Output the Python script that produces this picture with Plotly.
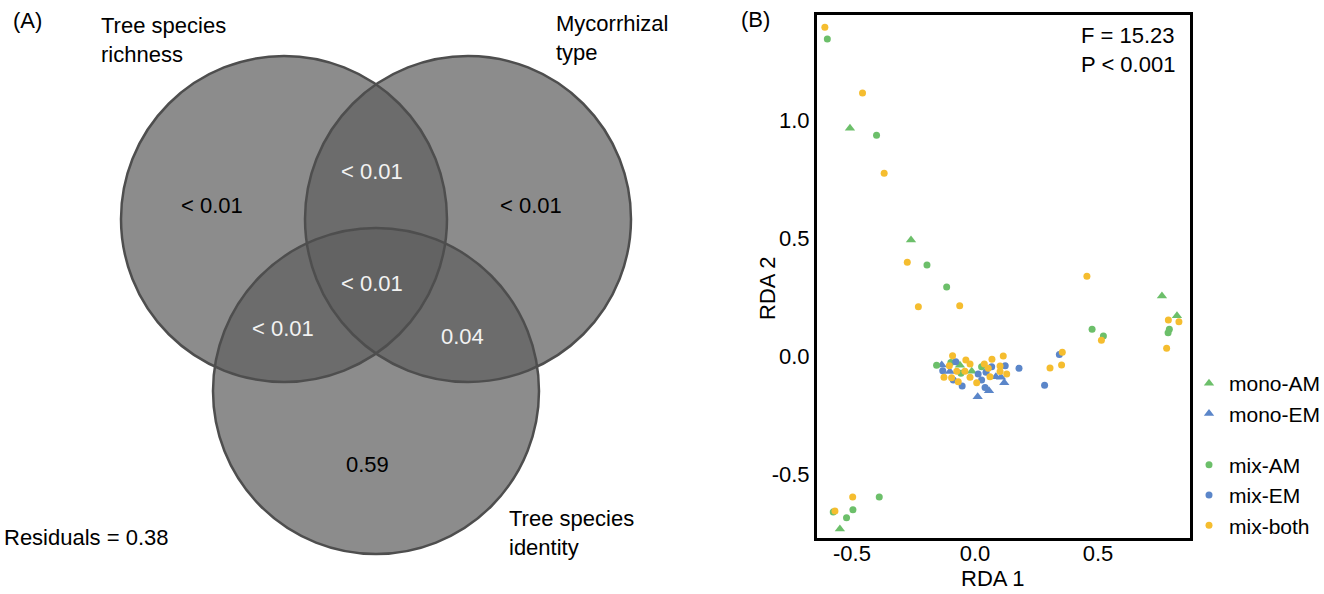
import plotly.graph_objects as go

# ---------------- Panel B data (RDA scores) ----------------
mono_am_x = [-0.508, -0.260, 0.760, 0.821, -0.549, -0.061, -0.013]
mono_am_y = [0.965, 0.492, 0.254, 0.171, -0.733, -0.039, -0.064]

mono_em_x = [-0.135, -0.102, 0.057, 0.011, 0.085, 0.106, 0.119]
mono_em_y = [-0.038, -0.066, -0.147, -0.172, -0.088, -0.090, -0.113]

mix_am_x = [-0.600, -0.400, -0.195, -0.115, 0.476, 0.522, 0.790, 0.785,
            -0.389, -0.576, -0.496, -0.522, -0.156, -0.098, -0.057, 0.027]
mix_am_y = [1.343, 0.936, 0.386, 0.292, 0.114, 0.085, 0.113, 0.099,
            -0.597, -0.661, -0.651, -0.685, -0.039, -0.027, -0.073, -0.045]

mix_em_x = [0.343, 0.283, 0.179, -0.131, -0.078, -0.088, -0.052, 0.013,
            0.027, 0.045, 0.041, 0.068, 0.123]
mix_em_y = [0.007, -0.124, -0.052, -0.062, -0.024, -0.102, -0.127, -0.076,
            -0.102, -0.069, -0.133, -0.045, -0.041]

mix_both_x = [-0.610, -0.457, -0.369, -0.275, -0.230, -0.062, 0.455, 0.786,
              0.829, 0.779, 0.514, 0.355, 0.305, 0.352, -0.497, -0.569,
              -0.126, -0.091, -0.104, -0.095, -0.068, -0.074, -0.037, -0.020,
              -0.041, -0.020, 0.007, 0.038, 0.054, 0.069, 0.061, 0.102,
              0.115, 0.102, 0.129]
mix_both_y = [1.393, 1.114, 0.774, 0.397, 0.209, 0.213, 0.338, 0.153,
              0.145, 0.033, 0.067, 0.016, -0.051, -0.038, -0.597, -0.657,
              -0.090, 0.001, -0.041, -0.092, -0.109, -0.064, -0.017, -0.034,
              -0.064, -0.090, -0.113, -0.034, -0.052, -0.014, -0.088, -0.042,
              0.000, -0.066, -0.076]

x_ticks = [-0.5, 0.0, 0.5]
x_tick_labels = ["-0.5", "0.0", "0.5"]
y_ticks = [-0.5, 0.0, 0.5, 1.0]
y_tick_labels = ["-0.5", "0.0", "0.5", "1.0"]

# ---------------- Panel A data (Venn) ----------------
venn_set_labels = ["Tree species<br>richness", "Mycorrhizal<br>type", "Tree species<br>identity"]
venn_region_labels = ["< 0.01", "< 0.01", "< 0.01", "< 0.01", "< 0.01", "0.04", "0.59"]
residual_label = "Residuals = 0.38"

GREEN = "#6cbf6a"
BLUE = "#5b86c9"
YELLOW = "#f5bd2f"
FONT = "Liberation Sans, Arial, sans-serif"
FS = 22
W, H = 1324, 594

fig = go.Figure()

# Venn geometry (panel-A axis units are pixels of the panel)
venn_centers = [(284, 219), (468, 219), (376, 391)]
venn_r = 163
for (cx, cy) in venn_centers:
    fig.add_shape(type="circle", xref="x2", yref="y2",
                  x0=cx - venn_r, x1=cx + venn_r, y0=cy - venn_r, y1=cy + venn_r,
                  fillcolor="rgba(95,95,95,0.72)", line=dict(width=0), layer="above")
for (cx, cy) in venn_centers:
    fig.add_shape(type="circle", xref="x2", yref="y2",
                  x0=cx - venn_r, x1=cx + venn_r, y0=cy - venn_r, y1=cy + venn_r,
                  fillcolor="rgba(0,0,0,0)", line=dict(width=2.5, color="#4e4e4e"),
                  layer="above")

region_pos = [(212, 205), (372, 171), (531, 205), (372, 283), (283, 328), (462, 336), (367, 464)]
region_col = ["black", "#f2f2f2", "black", "#f2f2f2", "#f2f2f2", "#f2f2f2", "black"]
for lab, (px, py), col in zip(venn_region_labels, region_pos, region_col):
    fig.add_annotation(x=px, y=py, xref="x2", yref="y2", text=lab, showarrow=False,
                       xanchor="center", yanchor="middle",
                       font=dict(size=FS, color=col, family=FONT))

set_pos = [(99, 40), (554, 38), (507, 533)]
for lab, (px, py) in zip(venn_set_labels, set_pos):
    fig.add_annotation(x=px, y=py, xref="x2", yref="y2", text=lab, showarrow=False,
                       xanchor="left", yanchor="middle", align="left",
                       font=dict(size=FS, color="black", family=FONT))
fig.add_annotation(x=2, y=537, xref="x2", yref="y2", text=residual_label, showarrow=False,
                   xanchor="left", yanchor="middle", font=dict(size=FS, color="black", family=FONT))
fig.add_annotation(x=11, y=20, xref="x2", yref="y2", text="(A)", showarrow=False,
                   xanchor="left", yanchor="middle", font=dict(size=FS, color="black", family=FONT))

# invisible trace to hold panel A axes
fig.add_trace(go.Scatter(x=[0], y=[0], xaxis="x2", yaxis="y2", mode="markers",
                         marker=dict(opacity=0), showlegend=False, hoverinfo="skip"))

# Panel B scatter
series = [
    ("mono-AM", mono_am_x, mono_am_y, GREEN, "triangle-up", 9, "mono"),
    ("mono-EM", mono_em_x, mono_em_y, BLUE, "triangle-up", 9, "mono"),
    ("mix-AM", mix_am_x, mix_am_y, GREEN, "circle", 7, "mix"),
    ("mix-EM", mix_em_x, mix_em_y, BLUE, "circle", 7, "mix"),
    ("mix-both", mix_both_x, mix_both_y, YELLOW, "circle", 7, "mix"),
]
for name, xs, ys, col, sym, sz, grp in series:
    fig.add_trace(go.Scatter(x=xs, y=ys, mode="markers", name=name, legendgroup=grp,
                             marker=dict(color=col, symbol=sym, size=sz, line=dict(width=0)),
                             xaxis="x", yaxis="y"))

fig.add_annotation(x=1177 / W, y=1 - 21 / H, xref="paper", yref="paper",
                   text="F = 15.23<br>P < 0.001", showarrow=False, xanchor="right",
                   yanchor="top", align="left", font=dict(size=FS, color="black", family=FONT))
fig.add_annotation(x=755 / W, y=1 - 20 / H, xref="paper", yref="paper", text="(B)",
                   xanchor="center", yanchor="middle",
                   showarrow=False, font=dict(size=FS, color="black", family=FONT))
fig.add_annotation(x=993 / W, y=1 - 578 / H, xref="paper", yref="paper", text="RDA 1",
                   xanchor="center", yanchor="middle",
                   showarrow=False, font=dict(size=FS, color="black", family=FONT))
fig.add_annotation(x=767 / W, y=1 - 288 / H, xref="paper", yref="paper", text="RDA 2",
                   xanchor="center", yanchor="middle",
                   textangle=-90, showarrow=False, font=dict(size=FS, color="black", family=FONT))

fig.update_layout(
    width=W, height=H,
    margin=dict(l=0, r=0, t=0, b=0, autoexpand=False),
    paper_bgcolor="white", plot_bgcolor="white",
    font=dict(family=FONT, size=FS, color="black"),
    xaxis=dict(domain=[817 / W, 1190 / W], range=[-0.642, 0.874],
               tickvals=x_ticks, ticktext=x_tick_labels, showgrid=False,
               zeroline=False, showline=True, mirror=True, linecolor="black", linewidth=3,
               ticks="", ticklabelstandoff=-6, tickfont=dict(size=FS)),
    yaxis=dict(domain=[1 - 538 / H, 1 - 15 / H], range=[-0.771, 1.445],
               tickvals=y_ticks, ticktext=y_tick_labels, showgrid=False,
               zeroline=False, showline=True, mirror=True, linecolor="black", linewidth=3,
               ticks="", ticklabelstandoff=0, tickfont=dict(size=FS)),
    xaxis2=dict(domain=[0, 662 / W], range=[0, 662], visible=False, fixedrange=True),
    yaxis2=dict(domain=[0, 1], range=[H, 0], visible=False, fixedrange=True, anchor="x2"),
    legend=dict(x=1189 / W, y=1 - 363 / H, xanchor="left", yanchor="top",
                font=dict(size=21, family=FONT), tracegroupgap=21, itemwidth=30,
                bgcolor="rgba(0,0,0,0)"),
    showlegend=True,
)

fig.write_html("out.html", config={"displayModeBar": False},
               post_script="document.body.style.margin='0px';")
